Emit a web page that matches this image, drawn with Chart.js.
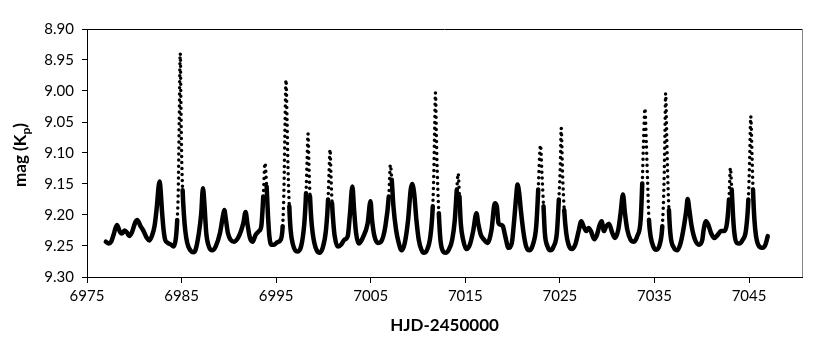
<!DOCTYPE html>
<html>
<head>
<meta charset="utf-8">
<script src="https://cdn.jsdelivr.net/npm/chart.js@4.4.1/dist/chart.umd.min.js"></script>
<style>
  html, body { margin: 0; padding: 0; background: #fff; }
  #grafica { display: block; }
</style>
</head>
<body>
<canvas id="grafica" width="830" height="343"></canvas>
<script>
// ======================= DATOS =======================
const fechas = [
  6976.99, 6977.28, 6977.56, 6977.81, 6978.16, 6978.51, 6978.69, 6978.97, 6979.22, 6979.46,
  6979.75, 6980.10, 6980.31, 6980.63, 6980.98, 6981.33, 6981.61, 6981.86, 6982.14, 6982.39,
  6982.57, 6982.67, 6982.78, 6982.92, 6983.10, 6983.27, 6983.55, 6983.91, 6984.15, 6984.40,
  6984.54, 6984.65, 6984.75, 6984.86, 6984.93, 6985.00, 6985.11, 6985.25, 6985.39, 6985.60,
  6985.92, 6986.25, 6986.48, 6986.83, 6987.08, 6987.26, 6987.43, 6987.61, 6987.89, 6988.25,
  6988.60, 6989.06, 6989.37, 6989.52, 6989.69, 6989.90, 6990.19, 6990.54, 6991.07, 6991.53,
  6991.77, 6991.95, 6992.23, 6992.51, 6992.83, 6993.18, 6993.43, 6993.64, 6993.82, 6993.99,
  6994.14, 6994.28, 6994.49, 6994.77, 6995.12, 6995.48, 6995.69, 6995.83, 6995.94, 6996.04,
  6996.15, 6996.25, 6996.39, 6996.53, 6996.78, 6997.22, 6997.63, 6997.98, 6998.16, 6998.26,
  6998.37, 6998.47, 6998.58, 6998.72, 6998.86, 6999.04, 6999.29, 6999.57, 6999.92, 7000.27,
  7000.49, 7000.59, 7000.70, 7000.80, 7000.91, 7001.05, 7001.19, 7001.51, 7001.86, 7002.21,
  7002.57, 7002.81, 7003.06, 7003.24, 7003.45, 7003.73, 7004.15, 7004.68, 7004.97, 7005.14,
  7005.39, 7005.74, 7006.09, 7006.55, 7006.91, 7007.08, 7007.22, 7007.40, 7007.68, 7007.96,
  7008.25, 7008.60, 7008.95, 7009.23, 7009.37, 7009.59, 7009.83, 7010.08, 7010.36, 7010.61,
  7010.96, 7011.31, 7011.56, 7011.67, 7011.77, 7011.84, 7011.95, 7012.06, 7012.20, 7012.37,
  7012.66, 7012.90, 7013.25, 7013.61, 7013.89, 7014.10, 7014.24, 7014.38, 7014.52, 7014.77,
  7015.12, 7015.48, 7015.83, 7016.18, 7016.36, 7016.64, 7016.99, 7017.35, 7017.77, 7018.12,
  7018.33, 7018.51, 7018.76, 7018.97, 7019.22, 7019.57, 7019.92, 7020.17, 7020.38, 7020.52,
  7020.70, 7020.87, 7021.16, 7021.44, 7021.76, 7022.14, 7022.50, 7022.71, 7022.85, 7022.95,
  7023.10, 7023.27, 7023.41, 7023.70, 7023.98, 7024.33, 7024.68, 7024.89, 7025.04, 7025.14,
  7025.28, 7025.46, 7025.67, 7025.92, 7026.27, 7026.62, 7026.98, 7027.26, 7027.50, 7027.79,
  7028.03, 7028.28, 7028.63, 7028.92, 7029.20, 7029.41, 7029.66, 7029.90, 7030.19, 7030.54,
  7030.82, 7031.17, 7031.42, 7031.67, 7031.88, 7032.13, 7032.48, 7032.83, 7033.18, 7033.54,
  7033.71, 7033.85, 7033.99, 7034.14, 7034.28, 7034.42, 7034.59, 7034.88, 7035.19, 7035.55,
  7035.83, 7036.01, 7036.11, 7036.18, 7036.29, 7036.39, 7036.53, 7036.71, 7037.06, 7037.42,
  7037.77, 7038.12, 7038.37, 7038.51, 7038.69, 7038.93, 7039.29, 7039.71, 7040.06, 7040.20,
  7040.45, 7040.70, 7040.98, 7041.33, 7041.69, 7042.04, 7042.39, 7042.67, 7042.88, 7043.03,
  7043.17, 7043.31, 7043.45, 7043.70, 7043.98, 7044.33, 7044.68, 7044.93, 7045.07, 7045.18,
  7045.32, 7045.42, 7045.57, 7045.74, 7046.09, 7046.45, 7046.73, 7046.98
];

const magnitudes = [
  9.243, 9.246, 9.243, 9.232, 9.216, 9.228, 9.230, 9.225, 9.228, 9.234,
  9.228, 9.212, 9.208, 9.217, 9.226, 9.237, 9.241, 9.234, 9.218, 9.186,
  9.154, 9.146, 9.159, 9.192, 9.224, 9.240, 9.245, 9.248, 9.251, 9.237,
  9.208, 9.160, 9.050, 8.939, 9.020, 9.100, 9.160, 9.200, 9.225, 9.245,
  9.257, 9.260, 9.256, 9.229, 9.197, 9.157, 9.186, 9.229, 9.251, 9.257,
  9.251, 9.229, 9.202, 9.192, 9.208, 9.229, 9.240, 9.243, 9.234, 9.213,
  9.195, 9.213, 9.237, 9.243, 9.232, 9.226, 9.218, 9.170, 9.116, 9.154,
  9.202, 9.234, 9.248, 9.248, 9.244, 9.240, 9.218, 9.154, 9.052, 8.982,
  9.046, 9.122, 9.186, 9.224, 9.248, 9.259, 9.251, 9.213, 9.165, 9.116,
  9.069, 9.122, 9.170, 9.208, 9.229, 9.245, 9.257, 9.261, 9.253, 9.224,
  9.175, 9.132, 9.094, 9.138, 9.181, 9.213, 9.234, 9.251, 9.248, 9.240,
  9.234, 9.197, 9.154, 9.192, 9.229, 9.246, 9.237, 9.213, 9.178, 9.208,
  9.234, 9.245, 9.243, 9.218, 9.170, 9.119, 9.143, 9.186, 9.224, 9.245,
  9.257, 9.245, 9.208, 9.159, 9.150, 9.165, 9.208, 9.240, 9.256, 9.261,
  9.256, 9.234, 9.186, 9.132, 9.052, 9.003, 9.079, 9.143, 9.197, 9.240,
  9.259, 9.261, 9.256, 9.240, 9.208, 9.159, 9.133, 9.170, 9.213, 9.240,
  9.255, 9.248, 9.226, 9.197, 9.213, 9.232, 9.240, 9.245, 9.224, 9.181,
  9.186, 9.213, 9.216, 9.218, 9.234, 9.253, 9.245, 9.208, 9.170, 9.151,
  9.165, 9.192, 9.229, 9.251, 9.257, 9.248, 9.218, 9.159, 9.106, 9.087,
  9.132, 9.186, 9.229, 9.251, 9.257, 9.251, 9.229, 9.175, 9.122, 9.060,
  9.132, 9.192, 9.229, 9.248, 9.255, 9.248, 9.226, 9.210, 9.218, 9.226,
  9.221, 9.226, 9.239, 9.232, 9.216, 9.210, 9.226, 9.218, 9.214, 9.229,
  9.237, 9.224, 9.197, 9.167, 9.197, 9.224, 9.240, 9.243, 9.234, 9.208,
  9.149, 9.079, 9.028, 9.084, 9.149, 9.208, 9.234, 9.251, 9.256, 9.248,
  9.218, 9.149, 9.068, 9.004, 9.068, 9.132, 9.192, 9.234, 9.253, 9.257,
  9.245, 9.218, 9.192, 9.174, 9.192, 9.218, 9.240, 9.248, 9.240, 9.224,
  9.210, 9.216, 9.229, 9.237, 9.232, 9.226, 9.226, 9.213, 9.175, 9.124,
  9.159, 9.202, 9.229, 9.245, 9.246, 9.240, 9.224, 9.175, 9.106, 9.041,
  9.106, 9.159, 9.208, 9.234, 9.251, 9.253, 9.248, 9.234
];

const ticksX = [6975, 6985, 6995, 7005, 7015, 7025, 7035, 7045];
const ticksY = [8.90, 8.95, 9.00, 9.05, 9.10, 9.15, 9.20, 9.25, 9.30];
const tituloX = "HJD-2450000";
const tituloY = ["mag (K", "p", ")"];

const fuente = "Lato, 'Open Sans', sans-serif";

// los picos altos y los tramos muy inclinados se ven punteados como en el original
function punteado(ctx) {
  const dx = Math.abs(ctx.p1.x - ctx.p0.x) || 0.01;
  const pendiente = Math.abs(ctx.p1.y - ctx.p0.y) / dx;
  const cima = Math.min(magnitudes[ctx.p0DataIndex], magnitudes[ctx.p1DataIndex]);
  return pendiente > 25 || (pendiente > 8 && cima < 9.14);
}

// ======================= MARCO Y TITULOS =======================
const marcoYTitulos = {
  id: 'marcoYTitulos',
  afterDraw(chart) {
    const { ctx, chartArea: a } = chart;
    ctx.save();
    ctx.lineWidth = 1;
    ctx.strokeStyle = '#000';
    ctx.beginPath();
    ctx.moveTo(a.left, a.top + 0.5);
    ctx.lineTo(a.right, a.top + 0.5);
    ctx.stroke();
    ctx.strokeStyle = '#868686';
    ctx.beginPath();
    ctx.moveTo(a.right + 0.5, a.top);
    ctx.lineTo(a.right + 0.5, a.bottom);
    ctx.stroke();

    ctx.fillStyle = '#000';
    ctx.textBaseline = 'middle';
    ctx.textAlign = 'center';
    ctx.font = `bold 17px ${fuente}`;
    ctx.fillText(tituloX, (a.left + a.right) / 2, 326);

    // titulo Y girado, con subindice
    ctx.translate(21, 155);
    ctx.rotate(-Math.PI / 2);
    ctx.textAlign = 'left';
    const w1 = ctx.measureText(tituloY[0]).width;
    const w3 = ctx.measureText(tituloY[2]).width;
    ctx.font = `bold 12px ${fuente}`;
    const w2 = ctx.measureText(tituloY[1]).width;
    let x = -(w1 + w2 + w3) / 2;
    ctx.font = `bold 17px ${fuente}`;
    ctx.fillText(tituloY[0], x, 0);
    x += w1;
    ctx.font = `bold 12px ${fuente}`;
    ctx.fillText(tituloY[1], x, 5);
    x += w2;
    ctx.font = `bold 17px ${fuente}`;
    ctx.fillText(tituloY[2], x, 0);
    ctx.restore();
  }
};

// ======================= GRAFICA =======================
const puntos = fechas.map((f, i) => ({ x: f, y: magnitudes[i] }));

new Chart(document.getElementById('grafica').getContext('2d'), {
  type: 'scatter',
  data: {
    datasets: [{
      data: puntos,
      showLine: true,
      borderColor: '#000',
      backgroundColor: '#000',
      borderWidth: 4.5,
      borderCapStyle: 'round',
      borderJoinStyle: 'round',
      cubicInterpolationMode: 'monotone',
      pointRadius: 0,
      segment: {
        borderDash: ctx => punteado(ctx) ? [0, 6] : undefined,
        borderWidth: ctx => punteado(ctx) ? 3.5 : undefined
      }
    }]
  },
  options: {
    responsive: false,
    animation: false,
    layout: { padding: { top: 29, right: 28, left: 0, bottom: 0 } },
    plugins: {
      legend: { display: false },
      tooltip: { enabled: false }
    },
    scales: {
      x: {
        type: 'linear',
        min: 6975,
        max: 7050.6,
        afterBuildTicks: s => { s.ticks = ticksX.map(v => ({ value: v })); },
        afterFit: s => { s.height = 66; },
        ticks: {
          color: '#000',
          font: { family: fuente, size: 15 },
          padding: 4,
          maxRotation: 0,
          callback: v => String(v)
        },
        grid: { drawOnChartArea: false, drawTicks: true, tickLength: 6, color: '#000' },
        border: { color: '#000', width: 1 }
      },
      y: {
        reverse: true,
        min: 8.90,
        max: 9.30,
        afterBuildTicks: s => { s.ticks = ticksY.map(v => ({ value: v })); },
        afterFit: s => { s.width = 87; },
        ticks: {
          color: '#000',
          font: { family: fuente, size: 15 },
          padding: 8,
          callback: v => Number(v).toFixed(2)
        },
        grid: { drawOnChartArea: false, drawTicks: true, tickLength: 5, color: '#000' },
        border: { color: '#000', width: 1 }
      }
    }
  },
  plugins: [marcoYTitulos]
});
</script>
</body>
</html>
